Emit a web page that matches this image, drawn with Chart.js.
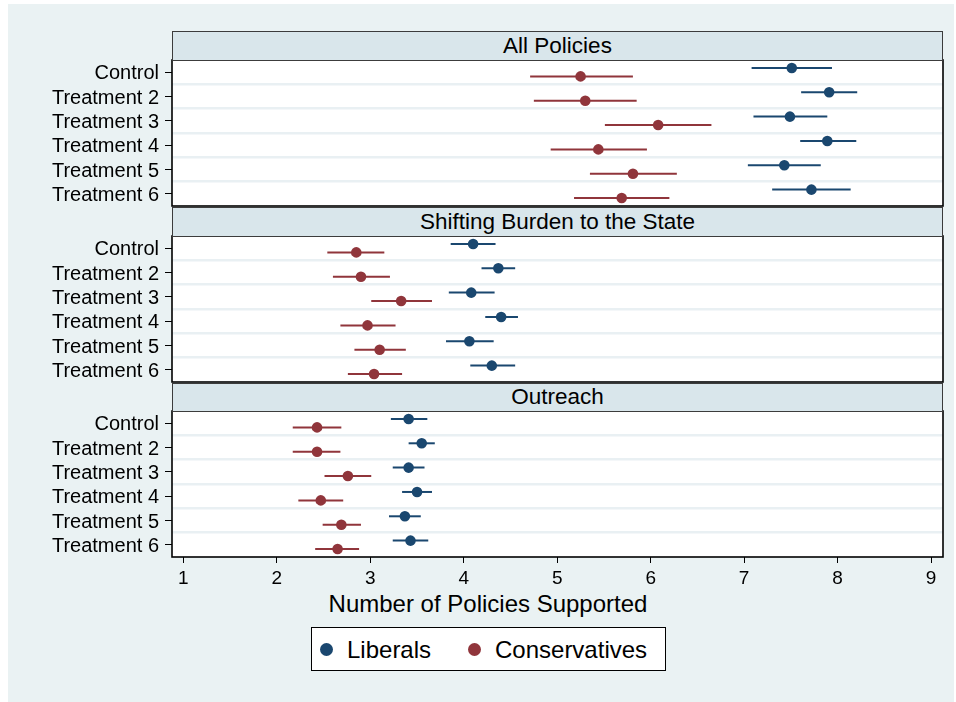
<!DOCTYPE html>
<html><head><meta charset="utf-8">
<script src="https://cdn.jsdelivr.net/npm/chart.js@4.4.1/dist/chart.umd.min.js"></script>
<style>
html,body{margin:0;padding:0;background:#fff;}
body{width:956px;height:702px;overflow:hidden;position:relative;font-family:"Liberation Sans",Arial,Helvetica,sans-serif;color:#000;}
#bg{position:absolute;left:8px;top:4px;width:946px;height:698px;background:#eaf2f3;}
.hdr{position:absolute;left:172px;width:771px;background:#d9e6eb;border:1.5px solid #3c3c3c;box-sizing:border-box;text-align:center;font-size:22.5px;color:#000;}
canvas{position:absolute;left:0;}
#xtitle{position:absolute;left:0;width:976px;top:590px;text-align:center;font-size:24px;line-height:28px;}
#legend{position:absolute;left:311px;top:627px;width:355px;height:44px;box-sizing:border-box;border:1px solid #000;background:#fff;font-size:24px;}
.lm{position:absolute;top:15px;width:13px;height:13px;border-radius:50%;}
.lt{position:absolute;top:8px;line-height:28px;}
</style>
</head><body>
<div id="bg"></div>
<div id="xtitle">Number of Policies Supported</div>
<div id="legend">
  <div class="lm" style="left:8px;background:#1a476f"></div><div class="lt" id="lg0" style="left:35px"></div>
  <div class="lm" style="left:156px;background:#90353b"></div><div class="lt" id="lg1" style="left:183px"></div>
</div>
<script>
// ---- data ----
const categories = ['Control','Treatment 2','Treatment 3','Treatment 4','Treatment 5','Treatment 6'];
const panelTitles = ['All Policies','Shifting Burden to the State','Outreach'];
const groupNames = ['Liberals','Conservatives'];
const xTicks = [1,2,3,4,5,6,7,8,9];

// All Policies
const allLibEst = [7.51,7.91,7.49,7.89,7.43,7.72];
const allLibLo  = [7.08,7.61,7.10,7.60,7.04,7.30];
const allLibHi  = [7.94,8.21,7.89,8.20,7.82,8.14];
const allConEst = [5.25,5.30,6.08,5.44,5.81,5.69];
const allConLo  = [4.71,4.75,5.51,4.93,5.35,5.18];
const allConHi  = [5.81,5.85,6.65,5.96,6.28,6.20];
// Shifting Burden to the State
const burLibEst = [4.10,4.37,4.08,4.40,4.06,4.30];
const burLibLo  = [3.86,4.19,3.84,4.23,3.81,4.07];
const burLibHi  = [4.34,4.55,4.33,4.58,4.32,4.55];
const burConEst = [2.85,2.90,3.33,2.97,3.10,3.04];
const burConLo  = [2.54,2.60,3.01,2.68,2.83,2.76];
const burConHi  = [3.15,3.21,3.66,3.27,3.38,3.34];
// Outreach
const outLibEst = [3.41,3.55,3.41,3.50,3.37,3.43];
const outLibLo  = [3.22,3.41,3.24,3.34,3.20,3.24];
const outLibHi  = [3.61,3.69,3.58,3.66,3.54,3.62];
const outConEst = [2.43,2.43,2.76,2.47,2.69,2.65];
const outConLo  = [2.17,2.17,2.51,2.23,2.49,2.41];
const outConHi  = [2.69,2.68,3.01,2.71,2.90,2.88];

// ---- styling / layout ----
const LIB = '#1a476f', CON = '#90353b';
const FONT = '"Liberation Sans", Arial, Helvetica, sans-serif';
const PLOT_LEFT = 172, PLOT_RIGHT = 943, W = 956;
const OFF = 0.173;
const geo = [
  {hTop:31,  pTop:60,  pBot:206},
  {hTop:207, pTop:236, pBot:382},
  {hTop:383, pTop:411, pBot:557}
];
const panelData = [
  [allLibEst,allLibLo,allLibHi,allConEst,allConLo,allConHi],
  [burLibEst,burLibLo,burLibHi,burConEst,burConLo,burConHi],
  [outLibEst,outLibLo,outLibHi,outConEst,outConLo,outConHi]
];

document.getElementById('lg0').textContent = groupNames[0];
document.getElementById('lg1').textContent = groupNames[1];

const framePlugin = {
  id:'frame',
  beforeDraw(chart){
    const {ctx, chartArea:a} = chart;
    ctx.save(); ctx.fillStyle='#fff';
    ctx.fillRect(a.left,a.top,a.right-a.left,a.bottom-a.top);
    ctx.restore();
  },
  afterDraw(chart){
    const {ctx, chartArea:a} = chart;
    ctx.save(); ctx.strokeStyle='#000'; ctx.lineWidth=1.6;
    ctx.strokeRect(a.left,a.top,a.right-a.left,a.bottom-a.top);
    ctx.restore();
  }
};

panelData.forEach((d, p) => {
  const g = geo[p];
  const last = p === geo.length - 1;
  const PADT = 20, PADB = 20, XH = 40;
  const plotH = g.pBot - g.pTop;
  const H = PADT + plotH + (last ? XH : PADB);

  const hdr = document.createElement('div');
  hdr.className = 'hdr';
  hdr.style.top = g.hTop + 'px';
  hdr.style.height = (g.pTop - g.hTop + 1) + 'px';
  hdr.style.lineHeight = (g.pTop - g.hTop - 2) + 'px';
  hdr.textContent = panelTitles[p];

  const cv = document.createElement('canvas');
  cv.width = W; cv.height = H;
  cv.style.top = (g.pTop - PADT) + 'px';
  document.body.appendChild(cv);
  document.body.appendChild(hdr);

  const [le, ll, lh, ce, cl, chh] = d;
  const pts = (est, o) => categories.map((c,i)=>({x:est[i], y:i+o}));
  const cis = (lo, hi, o) => categories.map((c,i)=>({x:[lo[i],hi[i]], y:i+o}));

  new Chart(cv.getContext('2d'), {
    type:'scatter',
    data:{ datasets:[
      {label:groupNames[0], type:'scatter', data:pts(le,-OFF), backgroundColor:LIB, borderWidth:0, pointRadius:5.3, order:0},
      {label:groupNames[1], type:'scatter', data:pts(ce, OFF), backgroundColor:CON, borderWidth:0, pointRadius:5.3, order:0},
      {label:groupNames[0]+' CI', type:'bar', indexAxis:'y', grouped:false, data:cis(ll,lh,-OFF), backgroundColor:LIB, maxBarThickness:2, borderWidth:0, order:1},
      {label:groupNames[1]+' CI', type:'bar', indexAxis:'y', grouped:false, data:cis(cl,chh,OFF), backgroundColor:CON, maxBarThickness:2, borderWidth:0, order:1}
    ]},
    options:{
      responsive:false, animation:false, events:[],
      layout:{padding:{left:0, right:W-PLOT_RIGHT, top:PADT, bottom:last?0:PADB}},
      plugins:{legend:{display:false}, tooltip:{enabled:false}},
      scales:{
        x:{
          type:'linear', min:0.878, max:9.128, display:last, offset:false, beginAtZero:false,
          afterBuildTicks(s){ s.ticks = xTicks.map(v=>({value:v})); },
          afterFit(s){ if (last) s.height = XH; },
          grid:{drawOnChartArea:false, drawTicks:true, tickLength:6, color:'#000', lineWidth:1, offset:false},
          border:{display:false},
          ticks:{color:'#000', padding:4, font:{family:FONT, size:19}, maxRotation:0, autoSkip:false}
        },
        y:{
          type:'linear', position:'left', min:-0.5, max:categories.length-0.5, reverse:true, offset:false,
          afterBuildTicks(s){ s.ticks = categories.map((c,i)=>({value:i})); },
          afterFit(s){ s.width = PLOT_LEFT; },
          grid:{drawOnChartArea:false, drawTicks:true, tickLength:7, color:'#000', lineWidth:1, offset:false},
          border:{display:false},
          ticks:{color:'#000', padding:6, labelOffset:1.5, font:{family:FONT, size:20}, autoSkip:false,
                 callback:(v)=>categories[v]}
        },
        g:{
          type:'linear', position:'right', axis:'y', min:-0.5, max:categories.length-0.5, reverse:true, offset:false,
          afterBuildTicks(s){ s.ticks = categories.slice(1).map((c,i)=>({value:i+0.5})); },
          afterFit(s){ s.width = 0; },
          grid:{drawOnChartArea:true, drawTicks:false, color:'#e9f0f3', lineWidth:2.5, offset:false},
          border:{display:false},
          ticks:{display:false}
        }
      }
    },
    plugins:[framePlugin]
  });
});
</script>
</body></html>
